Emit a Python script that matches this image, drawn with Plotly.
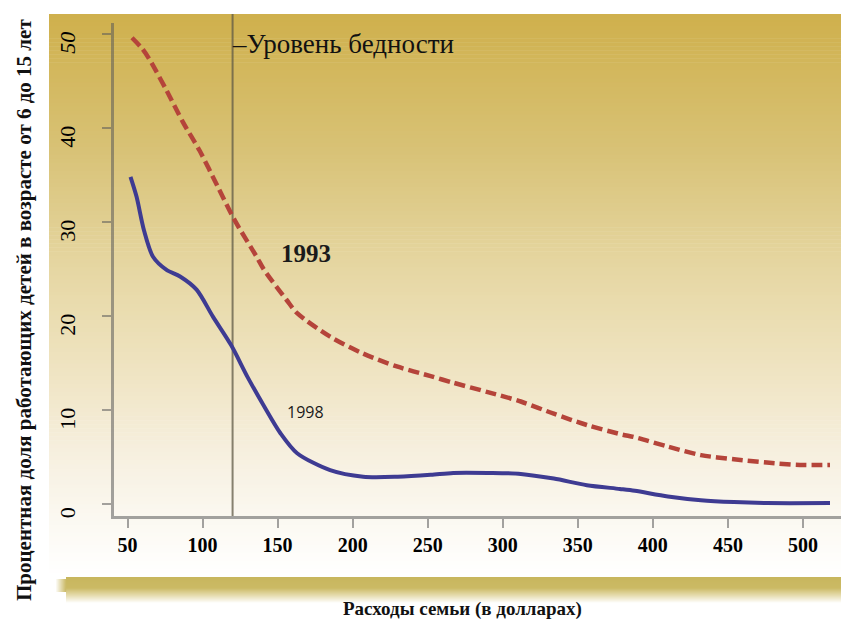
import plotly.graph_objects as go

# ---- data ----
x_1993 = [53, 60, 65, 76, 87, 98, 110, 121, 136, 141, 156, 163, 185, 207, 230, 252,
          267, 290, 312, 334, 356, 379, 388, 410, 432, 454, 476, 498, 518]
y_1993 = [49.6, 48.4, 47.2, 44.0, 40.6, 37.6, 33.8, 30.3, 26.3, 24.9, 21.7, 20.3, 17.8,
          16.0, 14.6, 13.6, 12.9, 11.9, 10.9, 9.6, 8.4, 7.4, 7.1, 6.1, 5.2, 4.75, 4.4,
          4.15, 4.15]

x_1998 = [52, 56, 61, 67, 76, 85, 96, 107, 119, 130, 141, 152, 163, 185, 207, 230, 252,
          267, 290, 312, 334, 356, 378, 388, 410, 432, 454, 476, 518]
y_1998 = [34.8, 32.7, 29.1, 26.3, 24.9, 24.2, 22.8, 19.9, 16.9, 13.5, 10.4, 7.5, 5.4,
          3.6, 2.9, 2.9, 3.1, 3.3, 3.3, 3.2, 2.7, 2.0, 1.6, 1.4, 0.8, 0.4, 0.2, 0.1, 0.1]

poverty_line = 120
x_ticks = [50, 100, 150, 200, 250, 300, 350, 400, 450, 500]
x_ticktext = ["<b>%d</b>" % v for v in x_ticks]
y_ticks = [0, 10, 20, 30, 40, 50]
y_ticktext = ["0", "10", "20", "30", "40", "<i>50</i>"]

poverty_label = "–Уровень бедности"
label_1993 = "1993"
label_1998 = "1998"
x_title = "Расходы семьи (в долларах)"
y_title = "Процентная доля работающих детей в возрасте от 6 до 15 лет"

# ---- layout geometry (page body has an 8px margin) ----
OFF = 8
W, H = 849 - OFF, 622 - OFF
ML, MT = 114 - OFF, 23 - OFF
MR = W - (842 - OFF)
MB = H - (516 - OFF)
PW, PH = W - ML - MR, H - MT - MB


def px_x(px):
    # px given in page (screenshot) pixels
    return (px - OFF - ML) / PW


def px_y(py):
    return (H - MB - (py - OFF)) / PH


def lerp_color(stops, t):
    for (t0, c0), (t1, c1) in zip(stops, stops[1:]):
        if t0 <= t <= t1:
            f = 0 if t1 == t0 else (t - t0) / (t1 - t0)
            return "rgb(%d,%d,%d)" % tuple(round(a + (b - a) * f) for a, b in zip(c0, c1))
    return "rgb(%d,%d,%d)" % stops[-1][1]


shapes = []
# gradient panel
panel_stops = [(14, (207, 176, 76)), (150, (216, 194, 118)), (270, (230, 215, 163)),
               (380, (240, 229, 197)), (450, (246, 239, 222)), (530, (252, 250, 244)),
               (577, (255, 255, 255))]
top, bot = 14, 577
n = 140
step = (bot - top) / n
for i in range(n):
    y0 = top + i * step
    y1 = y0 + step + 0.6
    col = lerp_color(panel_stops, y0 + step / 2)
    shapes.append(dict(type="rect", xref="paper", yref="paper", layer="below",
                       x0=px_x(49), x1=px_x(849 + 4), y0=px_y(y1), y1=px_y(y0),
                       fillcolor=col, line=dict(width=0)))
# bottom band (shadow strip)
band_stops = [(577, (200, 182, 94)), (588, (203, 186, 100)), (595, (228, 218, 170)),
              (603, (255, 255, 255))]
for i in range(26):
    y0 = 577 + i
    col = lerp_color(band_stops, y0 + 0.5)
    shapes.append(dict(type="rect", xref="paper", yref="paper", layer="below",
                       x0=px_x(66), x1=px_x(849 + 4), y0=px_y(y0 + 1.2), y1=px_y(y0),
                       fillcolor=col, line=dict(width=0)))
# soft left edge of band
for i in range(10):
    x0 = 56 + i
    f = (i + 1) / 11
    c = tuple(round(255 + (b - 255) * f) for b in (200, 182, 94))
    shapes.append(dict(type="rect", xref="paper", yref="paper", layer="below",
                       x0=px_x(x0), x1=px_x(x0 + 1.2), y0=px_y(592), y1=px_y(579),
                       fillcolor="rgb(%d,%d,%d)" % c, line=dict(width=0)))
# poverty line
shapes.append(dict(type="line", xref="x", yref="paper", layer="below",
                   x0=poverty_line, x1=poverty_line, y0=0, y1=px_y(14),
                   line=dict(color="rgba(95,90,70,0.75)", width=2)))

fig = go.Figure()
fig.add_trace(go.Scatter(x=x_1993, y=y_1993, mode="lines",
                         line=dict(color="#B5443A", width=4.5, dash="11px,5px",
                                   shape="spline", smoothing=0.8),
                         hoverinfo="skip", showlegend=False))
fig.add_trace(go.Scatter(x=x_1998, y=y_1998, mode="lines",
                         line=dict(color="#3E3B92", width=4, shape="spline", smoothing=0.8),
                         hoverinfo="skip", showlegend=False))

axis_col = "rgba(90,90,90,0.55)"
fig.update_layout(
    width=W, height=H,
    margin=dict(l=ML, r=MR, t=MT, b=MB, autoexpand=False),
    paper_bgcolor="white", plot_bgcolor="rgba(0,0,0,0)",
    shapes=shapes,
    xaxis=dict(range=[41, 526], tickvals=x_ticks, ticktext=x_ticktext,
               showgrid=False, zeroline=False,
               showline=True, linecolor=axis_col, linewidth=3,
               ticks="outside", ticklen=9, tickwidth=2, tickcolor=axis_col,
               tickfont=dict(family="Liberation Serif", size=20, color="#000"),
               ticklabelstandoff=0),
    yaxis=dict(range=[-1.28, 51.17], tickvals=y_ticks, ticktext=y_ticktext,
               showgrid=False, zeroline=False,
               showline=True, linecolor=axis_col, linewidth=3,
               ticks="outside", ticklen=9, tickwidth=2, tickcolor=axis_col,
               tickangle=-90, ticklabelstandoff=18, ticklabelshift=12,
               tickfont=dict(family="Liberation Serif", size=22, color="#000")),
    annotations=[
        dict(x=poverty_line, y=48.9, xref="x", yref="y", text=poverty_label,
             showarrow=False, xanchor="left", yanchor="middle", xshift=-3,
             font=dict(family="Liberation Serif", size=27, color="#111")),
        dict(x=169, y=26.6, xref="x", yref="y", text="<b>" + label_1993 + "</b>",
             showarrow=False, xanchor="center", yanchor="middle",
             font=dict(family="Liberation Serif", size=25, color="#1a1a1a")),
        dict(x=168.5, y=9.8, xref="x", yref="y", text=label_1998,
             showarrow=False, xanchor="center", yanchor="middle",
             font=dict(family="Open Sans", size=16, color="#1a1a1a")),
        dict(x=px_x(462), y=px_y(609), xref="paper", yref="paper",
             text="<b>" + x_title + "</b>", showarrow=False,
             xanchor="center", yanchor="middle",
             font=dict(family="Liberation Serif", size=19, color="#111")),
        dict(x=px_x(24), y=px_y(310), xref="paper", yref="paper",
             text="<b>" + y_title + "</b>", showarrow=False, textangle=-90,
             xanchor="center", yanchor="middle",
             font=dict(family="Liberation Serif", size=21, color="#111")),
    ],
)

fig.write_html("out.html")
